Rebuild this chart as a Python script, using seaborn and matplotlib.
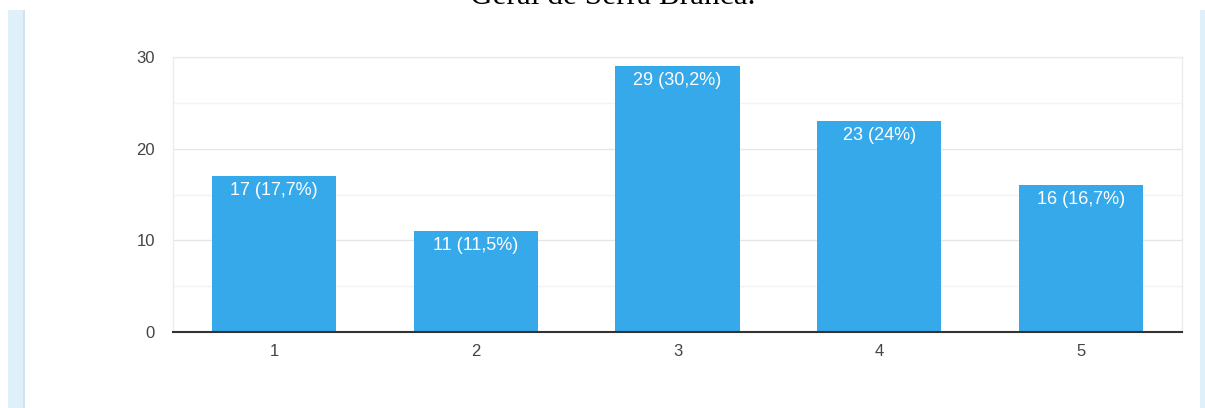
import matplotlib
matplotlib.use("Agg")
import matplotlib.pyplot as plt
import seaborn as sns
import pandas as pd
from matplotlib.patches import Rectangle

categories = ["1", "2", "3", "4", "5"]
counts = [17, 11, 29, 23, 16]
percent_labels = ["17 (17,7%)", "11 (11,5%)", "29 (30,2%)", "23 (24%)", "16 (16,7%)"]
y_ticks = [0, 10, 20, 30]
title_text = "Geral de Serra Branca."

sns.set_theme(style="white")
plt.rcParams["font.family"] = ["Liberation Sans", "DejaVu Sans"]

fig = plt.figure(figsize=(12.05, 4.08), dpi=100)
fig.patch.set_facecolor("white")
W, H = 1205, 408

# decorative side strips
fig.patches.append(Rectangle((8 / W, 0), 16 / W, (H - 10) / H, transform=fig.transFigure,
                             facecolor="#dff0fb", edgecolor="none", zorder=0))
fig.patches.append(Rectangle((23 / W, 0), 1.5 / W, (H - 10) / H, transform=fig.transFigure,
                             facecolor="#d3e2ee", edgecolor="none", zorder=0))
fig.patches.append(Rectangle((1200 / W, 0), 5 / W, (H - 10) / H, transform=fig.transFigure,
                             facecolor="#dff0fb", edgecolor="none", zorder=0))

# clipped title at top (cut off in the reference as well)
fig.text(613 / W, 1 - 4 / H, title_text, ha="center", va="baseline",
         fontsize=22.5, family=["Liberation Serif", "DejaVu Serif"], color="black")

ax = fig.add_axes([173 / W, 1 - 332 / H, (1182 - 173) / W, (332 - 57) / H])
df = pd.DataFrame({"cat": categories, "n": counts})
sns.barplot(data=df, x="cat", y="n", ax=ax, color="#36a9eb", saturation=1,
            width=0.615, edgecolor="none", zorder=3)

ax.set_xlim(-0.5, 4.5)
ax.set_ylim(0, 30)
ax.set_yticks(y_ticks)
ax.set_yticks([5, 15, 25], minor=True)
ax.grid(axis="y", which="major", color="#e6e6e6", linewidth=1.0, zorder=0)
ax.grid(axis="y", which="minor", color="#f3f3f3", linewidth=1.0, zorder=0)
ax.set_axisbelow(True)
ax.set_xlabel("")
ax.set_ylabel("")

for s in ["left", "right", "top"]:
    ax.spines[s].set_color("#ececec")
    ax.spines[s].set_linewidth(1.0)
ax.spines["bottom"].set_color("#333333")
ax.spines["bottom"].set_linewidth(1.5)
ax.spines["bottom"].set_zorder(5)

ax.tick_params(axis="y", which="both", length=0, pad=13, labelsize=12, labelcolor="#444444")
ax.tick_params(axis="x", length=0, pad=9, labelsize=12, labelcolor="#444444")

for i, (v, lab) in enumerate(zip(counts, percent_labels)):
    ax.annotate(lab, (i, v), xytext=(0, -4), textcoords="offset points",
                ha="center", va="top", color="white", fontsize=13,
                fontweight="medium", zorder=6)

fig.savefig("out.png", dpi=100, facecolor="white")
